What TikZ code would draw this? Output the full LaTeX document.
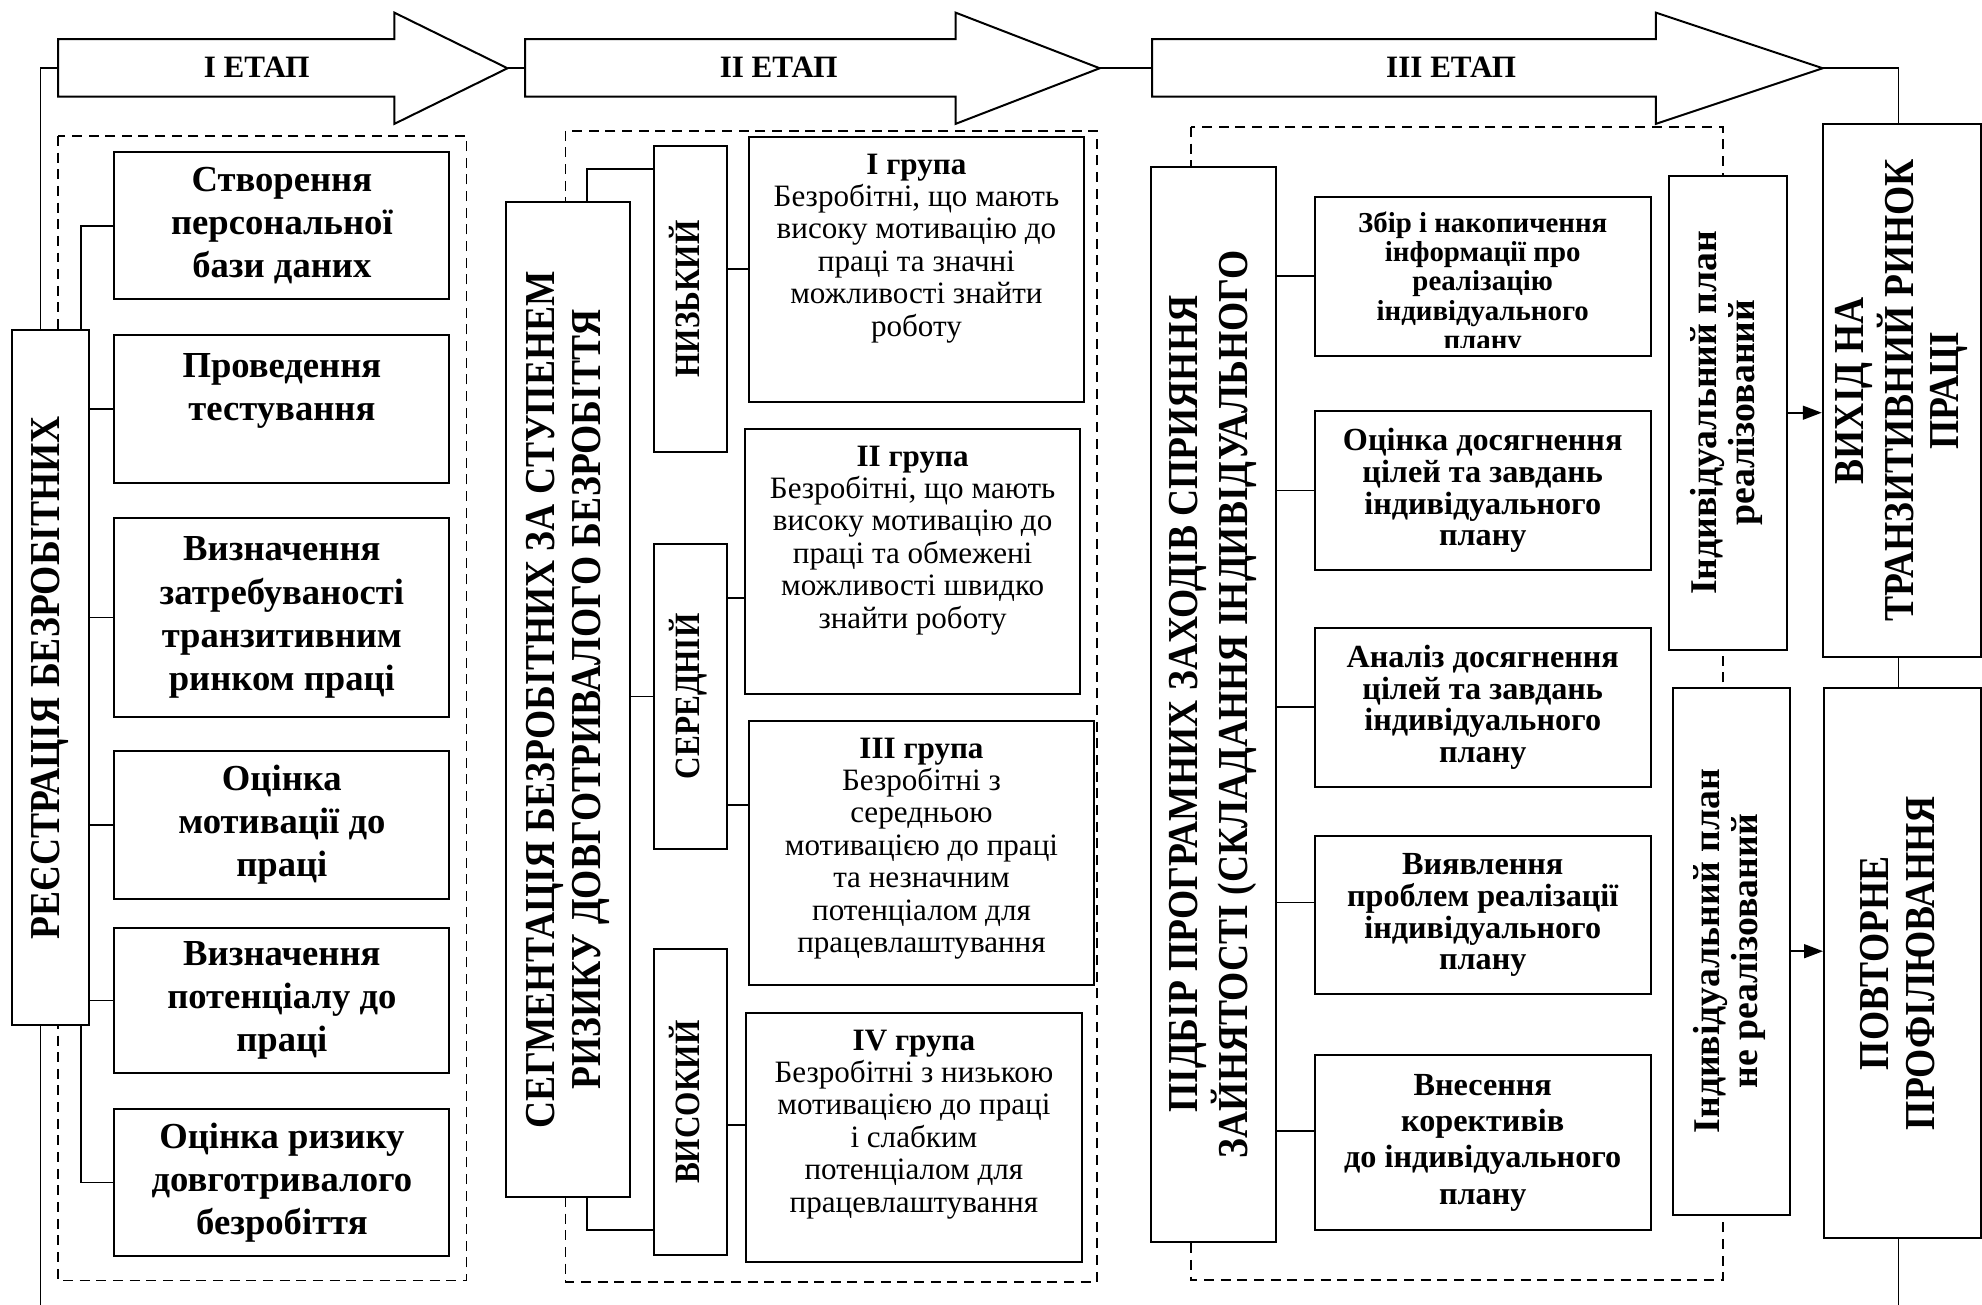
\documentclass[tikz,border=0pt]{standalone}
\usepackage{fontspec}
\setmainfont{Liberation Serif}
\newfontfamily\narrowfont[FakeStretch=0.88]{Liberation Serif}
\usetikzlibrary{arrows.meta,positioning}
\newcommand{\uptext}[1]{\rotatebox{90}{\begin{tabular}{@{}c@{}}#1\end{tabular}}}

\begin{document}
\begin{tikzpicture}[
    every node/.style={align=center},
    frame/.style={draw, line width=0.7pt, dash pattern=on 4.5pt off 3pt},
    box/.style={draw, line width=0.9pt, fill=white, inner sep=1pt},
    link/.style={draw, line width=0.8pt},
    link arrow/.style={link, -{Triangle[length=0.3cm,width=0.22cm]}},
    stage arrow/.style={draw, line width=0.9pt, fill=white, line join=miter},
    stage label/.style={font=\bfseries\fontsize{14}{16}\selectfont},
    task/.style={box, minimum width=5.30cm, font=\bfseries\fontsize{16.5}{19.4}\selectfont},
    group/.style={box, minimum width=5.31cm},
    group text/.style={inner sep=0pt, font=\fontsize{14}{14.6}\selectfont},
    level/.style={box, minimum width=1.15cm, minimum height=4.84cm, font=\narrowfont\bfseries\fontsize{16}{18}\selectfont},
    measure/.style={box, minimum width=5.31cm, minimum height=2.51cm, font=\bfseries\fontsize{14.5}{14.3}\selectfont},
    collect text/.style={inner sep=0pt, font=\bfseries\fontsize{13}{13.1}\selectfont},
    pillar/.style={box, font=\narrowfont\bfseries\fontsize{19.2}{20.5}\selectfont},
    plan/.style={box, font=\bfseries\fontsize{17}{16.7}\selectfont},
    ]
\useasboundingbox (0,0) rectangle (31.36,-20.64);
% dashed frames of the stages
\draw[frame] (0.92,-2.15) rectangle (7.38,-20.26);
\draw[frame] (8.95,-2.07) rectangle (17.36,-20.28);
\draw[frame] (18.84,-2.01) rectangle (27.26,-20.25);
% stage arrows
\draw[stage arrow] (0.92,-0.62) -- (6.24,-0.62) -- (6.24,-0.20) -- (8.03,-1.08) -- (6.24,-1.96) -- (6.24,-1.53) -- (0.92,-1.53) -- cycle;
\draw[stage arrow] (8.31,-0.62) -- (15.12,-0.62) -- (15.12,-0.20) -- (17.40,-1.08) -- (15.12,-1.96) -- (15.12,-1.53) -- (8.31,-1.53) -- cycle;
\draw[stage arrow] (18.23,-0.62) -- (26.20,-0.62) -- (26.20,-0.20) -- (28.84,-1.08) -- (26.20,-1.96) -- (26.20,-1.53) -- (18.23,-1.53) -- cycle;
\coordinate (tailI) at (0.92,-1.08);
\coordinate (tipI) at (8.03,-1.08);
\coordinate (tailII) at (8.31,-1.08);
\coordinate (tipII) at (17.40,-1.08);
\coordinate (tailIII) at (18.23,-1.08);
\coordinate (tipIII) at (28.84,-1.08);
\coordinate (endL) at (0.64,-20.64);
\coordinate (endR) at (30.04,-20.64);
\node[stage label] (stageI) at (4.06,-1.06) {I ЕТАП};
\node[stage label] (stageII) at (12.32,-1.06) {II ЕТАП};
\node[stage label] (stageIII) at (22.96,-1.06) {III ЕТАП};
\draw[link] (tailI) -| (endL);
\draw[link] (tipI) -- (tailII);
\draw[link] (tipII) -- (tailIII);
\draw[link] (tipIII) -| (endR);
% stage I
\node[pillar, minimum width=1.22cm, minimum height=11.01cm] (reg) at (0.80,-10.72) {\uptext{РЕЄСТРАЦІЯ БЕЗРОБІТНИХ}};
\node[task, minimum height=2.33cm] (create) at (4.46,-3.57) {Створення\\персональної\\бази даних};
\node[task, minimum height=2.34cm] (test) at (4.46,-6.47) {Проведення\\тестування\\\mbox{}};
\node[task, minimum height=3.14cm] (demand) at (4.46,-9.77) {Визначення\\затребуваності\\транзитивним\\ринком праці};
\node[task, minimum height=2.34cm] (motiv) at (4.46,-13.05) {Оцінка\\мотивації до\\праці};
\node[task, minimum height=2.30cm] (potent) at (4.46,-15.83) {Визначення\\потенціалу до\\праці};
\node[task, minimum height=2.34cm] (risk) at (4.46,-18.71) {Оцінка ризику\\довготривалого\\безробіття};
\draw[link] (create.west) -| ([xshift=-0.14cm]reg.north east);
\draw[link] (test.west) -- (test.west -| reg.east);
\draw[link] (demand.west) -- (demand.west -| reg.east);
\draw[link] (motiv.west) -- (motiv.west -| reg.east);
\draw[link] (potent.west) -- (potent.west -| reg.east);
\draw[link] ([xshift=-0.14cm]reg.south east) |- (risk.west);
% stage II
\node[pillar, minimum width=1.97cm, minimum height=15.74cm] (seg) at (8.99,-11.07) {\uptext{СЕГМЕНТАЦІЯ БЕЗРОБІТНИХ ЗА СТУПЕНЕМ\\РИЗИКУ ДОВГОТРИВАЛОГО БЕЗРОБІТТЯ}};
\node[level] (low) at (10.93,-4.73) {\uptext{НИЗЬКИЙ}};
\node[level] (mid) at (10.93,-11.02) {\uptext{СЕРЕДНІЙ}};
\node[level] (high) at (10.93,-17.44) {\uptext{ВИСОКИЙ}};
\node[group, minimum height=4.20cm] (g1) at (14.50,-4.26) {};
\node[group, minimum height=4.20cm] (g2) at (14.44,-8.88) {};
\node[group, minimum width=5.47cm, minimum height=4.18cm] (g3) at (14.58,-13.49) {};
\node[group, minimum height=3.94cm] (g4) at (14.46,-17.99) {};
\node[group text, below=0.28cm of g1.north] (g1text) {\textbf{I група}\\Безробітні, що мають\\високу мотивацію до\\праці та значні\\можливості знайти\\роботу};
\node[group text, below=0.28cm of g2.north] (g2text) {\textbf{II група}\\Безробітні, що мають\\високу мотивацію до\\праці та обмежені\\можливості швидко\\знайти роботу};
\node[group text, below=0.28cm of g3.north] (g3text) {\textbf{III група}\\Безробітні з\\середньою\\мотивацією до праці\\та незначним\\потенціалом для\\працевлаштування};
\node[group text, below=0.28cm of g4.north] (g4text) {\textbf{IV група}\\Безробітні з низькою\\мотивацією до праці\\і слабким\\потенціалом для\\працевлаштування};
\coordinate (midA) at ([yshift=1.56cm]mid.east);
\coordinate (midB) at ([yshift=-1.72cm]mid.east);
\coordinate (highA) at ([yshift=-0.36cm]high.east);
\draw[link] ([xshift=-0.7cm]seg.north east) |- ([yshift=-0.38cm]low.north west);
\draw[link] (seg.east |- mid.west) -- (mid.west);
\draw[link] ([xshift=-0.7cm]seg.south east) |- ([yshift=0.42cm]high.south west);
\draw[link] (low.east |- g1.west) -- (g1.west);
\draw[link] (midA) -- (midA -| g2.west);
\draw[link] (midB) -- (midB -| g3.west);
\draw[link] (highA) -- (highA -| g4.west);
% stage III
\node[pillar, minimum width=1.97cm, minimum height=17.01cm] (pick) at (19.20,-11.14) {\uptext{ПІДБІР ПРОГРАМНИХ ЗАХОДІВ СПРИЯННЯ\\ЗАЙНЯТОСТІ (СКЛАДАННЯ ІНДИВІДУАЛЬНОГО}};
\node[measure] (collect) at (23.46,-4.37) {};
\begin{scope}
\clip (collect.north west) rectangle ([yshift=0.15cm]collect.south east);
\node[collect text, below=0.25cm of collect.north] (collecttext) {Збір і накопичення\\інформації про\\реалізацію\\індивідуального\\плану};
\end{scope}
\node[measure] (assess) at (23.46,-7.76) {Оцінка досягнення\\цілей та завдань\\індивідуального\\плану};
\node[measure] (analyse) at (23.46,-11.19) {Аналіз досягнення\\цілей та завдань\\індивідуального\\плану};
\node[measure] (detect) at (23.46,-14.48) {Виявлення\\проблем реалізації\\індивідуального\\плану};
\node[measure, minimum height=2.76cm, font=\bfseries\fontsize{14.5}{16.4}\selectfont] (adjust) at (23.46,-18.08) {Внесення\\корективів\\до індивідуального\\плану};
\coordinate (detectA) at ([yshift=0.2cm]detect.west);
\coordinate (adjustA) at ([yshift=0.18cm]adjust.west);
\draw[link] (pick.east |- collect.west) -- (collect.west);
\draw[link] (pick.east |- assess.west) -- (assess.west);
\draw[link] (pick.east |- analyse.west) -- (analyse.west);
\draw[link] (pick.east |- detectA) -- (detectA);
\draw[link] (pick.east |- adjustA) -- (adjustA);
\node[plan, minimum width=1.86cm, minimum height=7.50cm] (done) at (27.34,-6.53) {\uptext{Індивідуальний план\\реалізований}};
\node[plan, minimum width=1.85cm, minimum height=8.34cm] (notdone) at (27.39,-15.05) {\uptext{Індивідуальний план\\не реалізований}};
\node[pillar, minimum width=2.50cm, minimum height=8.44cm] (exit) at (30.09,-6.18) {\uptext{ВИХІД НА\\ТРАНЗИТИВНИЙ РИНОК\\ПРАЦІ}};
\node[pillar, minimum width=2.48cm, minimum height=8.71cm] (again) at (30.10,-15.24) {\uptext{ПОВТОРНЕ\\ПРОФІЛЮВАННЯ}};
\draw[link arrow] (done.east) -- (done.east -| exit.west);
\draw[link arrow] (notdone.east) -- (notdone.east -| again.west);
\end{tikzpicture}
\end{document}
